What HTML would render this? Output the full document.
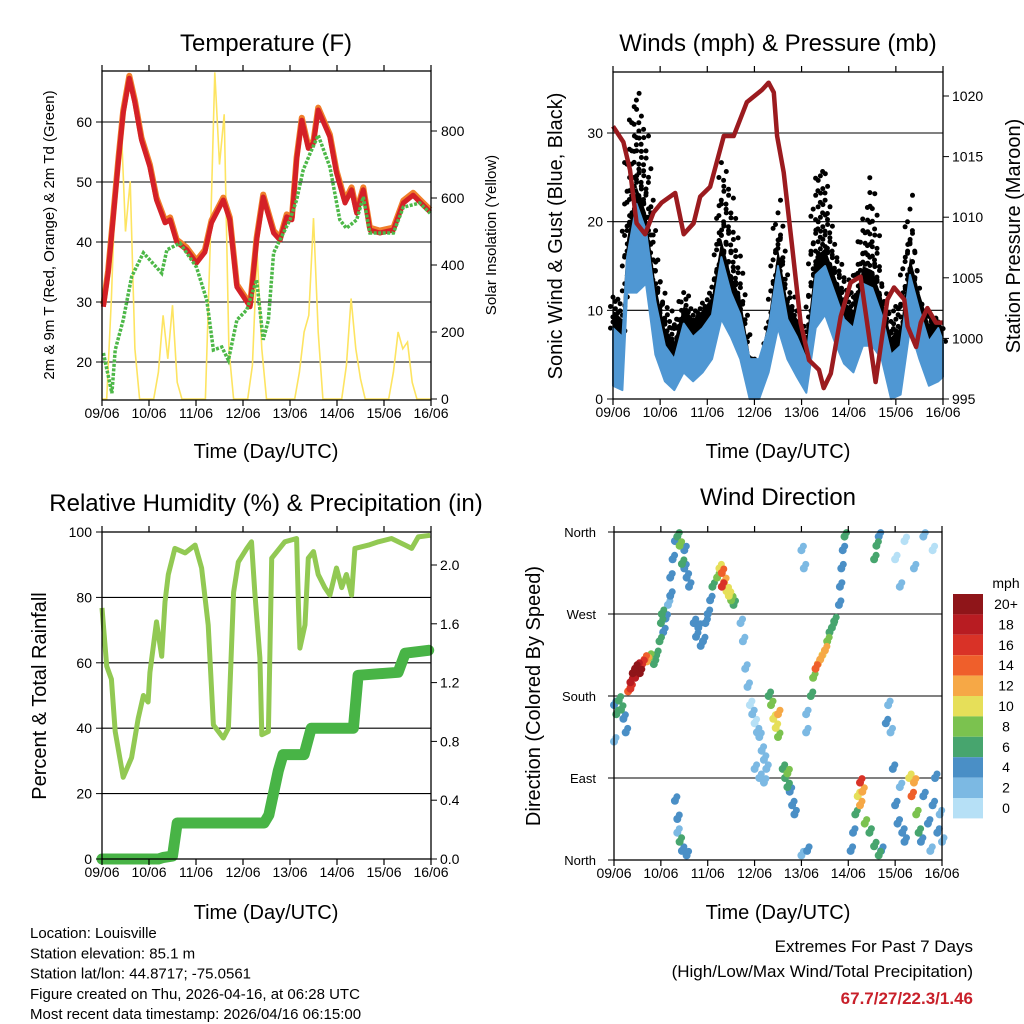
<!DOCTYPE html>
<html><head><meta charset="utf-8"><title>Weather station 7-day</title>
<style>
html,body{margin:0;padding:0;background:#fff;}
svg{display:block;font-family:"Liberation Sans",Arial,sans-serif;}
</style></head>
<body>
<svg id="chart" width="1024" height="1024" viewBox="0 0 1024 1024" xmlns="http://www.w3.org/2000/svg">
<rect x="0" y="0" width="1024" height="1024" fill="#fff"/>
<g id="layer"></g>
</svg>
<script>
// ---------- Data ----------
const dayLabels = ["09/06","10/06","11/06","12/06","13/06","14/06","15/06","16/06"];
// Temperature panel
const tDays = [0.03,0.13,0.24,0.35,0.45,0.58,0.7,0.84,1.02,1.16,1.34,1.45,1.59,1.8,2.01,2.19,2.33,2.58,2.72,2.87,3.15,3.29,3.43,3.65,3.79,3.93,4.04,4.14,4.25,4.39,4.5,4.6,4.85,4.99,5.17,5.31,5.42,5.56,5.7,5.91,6.2,6.41,6.62,6.76,6.98];
const tempVals = [29.2,34.8,44.2,53.7,61.5,67.3,63.2,57,52.5,47,43.2,43.7,40,38.7,36.5,38.3,43.2,47,43.7,32.5,29.2,40.3,47.5,41.5,40.3,44.2,43.7,53.7,60.3,55.6,56.5,62,57.5,51.5,46.5,48.7,44.8,48.7,42,41.5,42,46.5,47.8,46.7,45];
const tdDays = [0.03,0.21,0.28,0.45,0.63,0.88,1.02,1.27,1.38,1.66,2.01,2.23,2.37,2.55,2.69,2.87,3.08,3.29,3.43,3.54,3.65,3.86,4.0,4.14,4.28,4.43,4.6,4.85,5.06,5.2,5.42,5.56,5.7,6.2,6.41,6.76,6.98];
const dewVals = [21.5,14.8,22,27,34.2,38.2,37,34.8,38.7,39.8,35.8,30.3,22,22.5,20.3,27,28.7,33.7,23.7,27,38.2,41.5,43.7,47,52,54.8,57.8,52.5,43.7,42.3,43.7,47.5,41.5,41.5,45.8,46.5,44.8];
const solarVals = [0,0,300,700,850,500,650,150,0,0, 0,0,80,250,120,280,50,0,0,0, 0,0,0,450,975,700,850,150,0,0, 0,0,100,440,150,0,0,0,0,0, 0,0,80,200,250,540,200,0,0,0, 0,0,100,300,150,60,0,0,0,0, 0,0,80,200,150,170,50,0,0,0, 0];
// Winds panel
const windDays = [0,0.2,0.3,0.5,0.7,0.9,1.1,1.3,1.5,1.7,1.9,2.1,2.3,2.5,2.7,2.9,3.1,3.3,3.5,3.7,3.9,4.1,4.3,4.5,4.7,4.9,5.1,5.3,5.5,5.7,5.9,6.1,6.3,6.5,6.7,6.9,7.0];
const windHi = [8,7,16,22,19,11,6,4.5,8.5,7,8,9.5,16,12,9.5,4.5,4.5,8,15,9,7,4.5,14,15,12,9,8,13,12.5,9.5,5,6,14,10,6.5,8,6.5];
const windLo = [1.5,1,12,12,13,5,2,1,3,2,3,4.5,9,7,4.5,0,0,3,8,4.5,2.5,0.7,8,9.5,6.5,4,3,6,6,4.5,0,0.5,8,4.5,1.5,2,2.5];
const gustTop = [12,11,28,35,30,16,11,9,13,10,11,12,27,23,15,5,4,9,23,13,10,8,26,26,17,14,12,20,25,13,10,12,23,12,10,9,8];
const presDays = [0,0.22,0.36,0.5,0.68,0.86,1.03,1.32,1.5,1.71,1.85,2.06,2.35,2.56,2.84,3.16,3.3,3.41,3.48,3.62,3.8,3.98,4.16,4.37,4.47,4.62,4.83,5.04,5.25,5.4,5.57,5.82,5.96,6.18,6.25,6.43,6.53,6.67,6.85,7.0];
const presVals = [1017.5,1016.2,1013.9,1009.5,1008.6,1010.4,1011.2,1012,1008.6,1009.5,1011.7,1012.5,1016.7,1016.7,1019.5,1020.5,1021.1,1020.3,1016.7,1013.7,1007.6,1001.3,998.2,997.4,995.9,997.1,1001.8,1004.6,1005.1,1001,996.4,1003.2,1004.2,1003.2,1001,999.3,1001.3,1002.5,1001.3,1001.3];
// RH panel
const rhDays = [0,0.1,0.2,0.28,0.45,0.63,0.77,0.88,0.98,1.02,1.16,1.27,1.34,1.41,1.55,1.77,1.98,2.12,2.26,2.37,2.58,2.69,2.8,2.9,3.08,3.18,3.25,3.36,3.4,3.54,3.61,3.89,4.14,4.18,4.21,4.32,4.39,4.5,4.6,4.74,4.85,4.99,5.1,5.2,5.31,5.38,5.67,5.88,6.16,6.45,6.59,6.73,6.98];
const rhVals = [76.8,59,55,39,25,31,43,50,48,57,72.5,62,78.6,87,95,93.6,96,89,71.6,41,37,40,81.6,90.8,95,97,81.6,61.5,38,39,92,97,98,76.8,64.5,71.6,92,94,87,83,80.7,89,83,87,80.7,95,96,97,98,96,95,98.5,99];
const prDays = [0,1.2,1.3,1.5,1.6,3.45,3.55,3.75,3.85,4.3,4.45,5.35,5.45,6.3,6.45,6.95];
const prVals = [0,0,0.01,0.02,0.245,0.245,0.3,0.6,0.71,0.71,0.89,0.89,1.25,1.27,1.40,1.42];
// Wind direction panel
const wdDay = [0,0.05,0.1,0.15,0.2,0.25,0,0.3,0.35,0.4,0.45,0.5,0.55,0.6,0.65,0.7,0.75,0.45,0.35,0.85,0.9,0.97,1.0,1.02,1.05,1.1,1.15,1.2,1.2,1.25,1.3,1.35,1.4,1.45,1.5,1.55,1.6,1.5,1.7,1.75,1.8,1.85,1.9,1.95,2.0,2.05,2.1,2.2,2.25,2.3,2.35,2.4,2.45,2.5,2.55,2.3,2.7,2.75,2.8,2.85,2.9,2.95,3.0,3.05,3.1,3.15,3.2,3.25,3.3,3.35,3.4,3.45,3.5,3.5,3.6,3.65,3.7,3.75,3.8,3.85,3.7,3.0,3.1,3.2,1.3,1.35,1.4,1.45,1.55,1.35,4.0,4.05,4.1,4.1,4.12,4.0,4.8,4.82,4.85,4.88,4.92,4.2,4.25,4.3,4.35,4.4,4.45,4.5,4.55,4.6,4.65,4.7,5.05,5.1,5.15,5.2,5.25,5.3,5.25,5.35,5.45,5.55,5.65,5.7,5.55,5.6,5.65,5.8,5.85,5.9,5.95,6.0,6.05,6.1,6.15,6.2,6.3,6.35,6.4,6.45,6.5,6.55,6.6,6.7,6.75,6.8,6.85,6.9,6.95,7.0,6.0,6.1,6.2,6.4,6.6,6.8,6.2,6.6];
const wdDir = [170,160,175,165,155,140,130,185,195,205,210,212,205,215,220,218,222,200,188,215,225,240,260,270,250,265,280,290,310,330,350,355,345,325,320,310,300,340,260,245,255,235,240,260,270,285,300,310,320,315,305,295,290,285,280,300,260,240,210,190,170,160,150,140,135,120,110,100,180,170,155,145,135,160,100,90,80,75,60,50,95,100,90,85,65,45,20,10,5,30,340,320,160,140,10,5,280,300,320,340,355,180,200,210,215,220,225,230,240,250,255,262,10,30,50,70,85,75,60,40,30,15,5,10,330,345,355,150,170,140,100,60,40,80,30,20,90,70,85,50,30,20,70,40,10,60,90,30,50,20,330,300,350,320,355,340,270,250];
const wdSpd = [4,6,7,6,5,4,3,14,18,20,20,18,20,16,14,12,8,18,16,6,6,7,6,6,4,4,3,4,4,4,4,6,8,6,4,4,4,4,4,4,4,4,4,4,4,4,6,8,10,14,12,10,10,8,6,16,2,2,2,2,0,2,0,2,2,2,2,2,6,8,10,10,8,12,6,6,6,4,4,4,8,2,2,2,4,4,6,4,4,2,2,2,2,2,4,2,4,4,4,4,6,6,8,14,12,12,10,12,8,6,6,6,4,4,6,10,16,12,12,8,6,6,6,4,6,6,4,4,2,2,4,4,4,2,4,4,10,14,12,8,6,4,4,4,2,4,4,4,2,2,0,2,0,2,2,0];
const cbLabels = ["20+","18","16","14","12","10","8","6","4","2","0"];
const cbColors = ["#8f1519","#b81c22","#d93227","#ef5f2b","#f6a846","#e6df59","#7bc24f","#47a56e","#4a8fc6","#7cb9e3","#b6e0f6"];

// ---------- Helpers ----------
const NS = "http://www.w3.org/2000/svg";
const layer = document.getElementById("layer");
function mk(tag, attrs, parent) {
  const e = document.createElementNS(NS, tag);
  for (const k in attrs) e.setAttribute(k, attrs[k]);
  (parent || layer).appendChild(e);
  return e;
}
function txt(s, x, y, size, anchor, parent, extra) {
  const e = mk("text", Object.assign({x: x, y: y, "font-size": size, "text-anchor": anchor || "middle", fill: "#000"}, extra || {}), parent);
  e.textContent = s;
  return e;
}
function lin(d0, d1, r0, r1) { return v => r0 + (v - d0) / (d1 - d0) * (r1 - r0); }
function pathOf(xs, ys, fx, fy) {
  return xs.map((d, i) => (i ? "L" : "M") + fx(d).toFixed(1) + "," + fy(ys[i]).toFixed(1)).join(" ");
}
function interp(xs, ys, d) {
  if (d <= xs[0]) return ys[0];
  for (let i = 1; i < xs.length; i++) if (d <= xs[i]) {
    const t = (d - xs[i - 1]) / (xs[i] - xs[i - 1]);
    return ys[i - 1] + t * (ys[i] - ys[i - 1]);
  }
  return ys[ys.length - 1];
}
function spdColor(s) { const idx = Math.max(0, Math.min(10, 10 - Math.floor(s / 2))); return cbColors[idx]; }

function frame(g, x0, x1, y0, y1) {
  const f = mk("rect", {x: x0, y: y0, width: x1 - x0, height: y1 - y0, fill: "none", stroke: "#000", "stroke-width": 1.3}, g);
  
  
}
function xAxis(g, fx, y0, y1) {
  dayLabels.forEach((lab, i) => {
    const x = fx(i);
    mk("line", {x1: x, x2: x, y1: y1, y2: y1 + 6, stroke: "#000", "stroke-width": 1.2}, g);
    mk("line", {x1: x, x2: x, y1: y0, y2: y0 - 6, stroke: "#000", "stroke-width": 1.2}, g);
    const t = txt(lab, x, y1 + 18, 14, "middle", g);
    
    
  });
}
function grid(g, ys, x0, x1) {
  ys.forEach(y => mk("line", {x1: x0, x2: x1, y1: y, y2: y, stroke: "#000", "stroke-width": 1.1}, g));
}
function rotTitle(g, s, x, y, size, name) {
  const t = txt(s, x, y, size, "middle", g, {transform: "rotate(-90 " + x + " " + y + ")"});
  
  
}
function title(g, s, x, y, size, name) {
  const t = txt(s, x, y, size, "middle", g);
  
  
}

// ---------- Panel 1: Temperature ----------
(function () {
  const g = mk("g", {});
  
  
  const X0 = 102, X1 = 431, Y0 = 71, Y1 = 400;
  const fx = lin(0, 7, X0, X1), fy = lin(20, 60, 362, 122), fs = lin(0, 800, 399, 131);
  grid(g, [20, 30, 40, 50, 60].map(fy), X0, X1);
  const sp = mk("path", {d: pathOf(solarVals.map((v, i) => i / 10), solarVals, fx, fs), fill: "none", stroke: "#fde461", "stroke-width": 1.6}, g);
  
  
  const o = mk("path", {d: pathOf(tDays, tempVals.map(v => v + 0.4), fx, fy), fill: "none", stroke: "#f07f2b", "stroke-width": 6, "stroke-linejoin": "round"}, g);
  
  
  const r = mk("path", {d: pathOf(tDays, tempVals, fx, fy), fill: "none", stroke: "#d42027", "stroke-width": 5, "stroke-linejoin": "round"}, g);
  
  
  const gr = mk("path", {d: pathOf(tdDays, dewVals, fx, fy), fill: "none", stroke: "#4db848", "stroke-width": 3.5, "stroke-dasharray": "3 1.5"}, g);
  
  
  frame(g, X0, X1, Y0, Y1);
  xAxis(g, fx, Y0, Y1);
  [20, 30, 40, 50, 60].forEach(v => { mk("line", {x1: X0 - 6, x2: X0, y1: fy(v), y2: fy(v), stroke: "#000"}, g); txt(String(v), X0 - 10, fy(v) + 5, 14, "end", g); });
  [0, 200, 400, 600, 800].forEach(v => { mk("line", {x1: X1, x2: X1 + 6, y1: fs(v), y2: fs(v), stroke: "#000"}, g); txt(String(v), X1 + 10, fs(v) + 5, 14, "start", g); });
  title(g, "Temperature (F)", 266, 51, 24, "temperature-title");
  title(g, "Time (Day/UTC)", 266, 458, 20, "x-axis-title");
  rotTitle(g, "2m & 9m T (Red, Orange) & 2m Td (Green)", 54, 235, 15, "y-axis-title");
  rotTitle(g, "Solar Insolation (Yellow)", 496, 235, 15, "y2-axis-title");
})();

// ---------- Panel 2: Winds ----------
(function () {
  const g = mk("g", {});
  
  
  const X0 = 613, X1 = 943, Y0 = 72, Y1 = 399;
  const fx = lin(0, 7, X0, X1), fy = lin(0, 30, 399, 133), fp = lin(995, 1020, 399, 96);
  grid(g, [10, 20, 30].map(fy), X0, X1);
  const band = windDays.map((d, i) => fx(d).toFixed(1) + "," + fy(windLo[i]).toFixed(1)).join(" ") + " " +
    windDays.slice().reverse().map((d, j) => { const i = windDays.length - 1 - j; return fx(d).toFixed(1) + "," + fy(Math.min(gustTop[i], windHi[i] + 2)).toFixed(1); }).join(" ");
  mk("polygon", {points: band, fill: "#000"}, g);
  const gd = mk("g", {}, g);
  
  
  let n = 0;
  for (let d = 0; d <= 7; d += 0.05) {
    const hi = interp(windDays, windHi, d), top = interp(windDays, gustTop, d);
    const x = fx(d);
    let k = 0;
    let y = fy(hi);
    while (y >= fy(top)) {
      mk("circle", {cx: (x + ((k + n) % 3 - 1) * 2.5).toFixed(1), cy: y.toFixed(1), r: 2.5, fill: "#000"}, gd);
      k++;
      y -= 5 + k * 1.1;
    }
    n++;
  }
  const bb = windDays.map((d, i) => fx(d).toFixed(1) + "," + fy(windHi[i]).toFixed(1)).join(" ") + " " +
    windDays.slice().reverse().map((d, j) => { const i = windDays.length - 1 - j; return fx(d).toFixed(1) + "," + fy(windLo[i]).toFixed(1); }).join(" ");
  const bl = mk("polygon", {points: bb, fill: "#4f97d3", stroke: "#4f97d3", "stroke-width": 2, "stroke-linejoin": "round"}, g);
  
  
  const p = mk("path", {d: pathOf(presDays, presVals, fx, fp), fill: "none", stroke: "#9b1b1f", "stroke-width": 4.5, "stroke-linejoin": "round"}, g);
  
  
  frame(g, X0, X1, Y0, Y1);
  xAxis(g, fx, Y0, Y1);
  [0, 10, 20, 30].forEach(v => { mk("line", {x1: X0 - 6, x2: X0, y1: fy(v), y2: fy(v), stroke: "#000"}, g); txt(String(v), X0 - 10, fy(v) + 5, 14, "end", g); });
  [995, 1000, 1005, 1010, 1015, 1020].forEach(v => { mk("line", {x1: X1, x2: X1 + 6, y1: fp(v), y2: fp(v), stroke: "#000"}, g); txt(String(v), X1 + 9, fp(v) + 5, 14, "start", g); });
  title(g, "Winds (mph) & Pressure (mb)", 778, 51, 24, "winds-title");
  title(g, "Time (Day/UTC)", 778, 458, 20, "x-axis-title");
  rotTitle(g, "Sonic Wind & Gust (Blue, Black)", 562, 236, 20, "y-axis-title");
  rotTitle(g, "Station Pressure (Maroon)", 1020, 236, 20, "y2-axis-title");
})();

// ---------- Panel 3: RH & Precip ----------
(function () {
  const g = mk("g", {});
  
  
  const X0 = 102, X1 = 431, Y0 = 532, Y1 = 859;
  const fx = lin(0, 7, X0, X1), fy = lin(0, 100, 859, 532), fr = lin(0, 0.4, 859, 800.2);
  grid(g, [20, 40, 60, 80].map(fy), X0, X1);
  const rh = mk("path", {d: pathOf(rhDays, rhVals, fx, fy), fill: "none", stroke: "#92c953", "stroke-width": 5, "stroke-linejoin": "round"}, g);
  
  
  const pr = mk("path", {d: pathOf(prDays, prVals, fx, fr), fill: "none", stroke: "#48b446", "stroke-width": 11, "stroke-linejoin": "round", "stroke-linecap": "round"}, g);
  
  
  frame(g, X0, X1, Y0, Y1);
  xAxis(g, fx, Y0, Y1);
  [0, 20, 40, 60, 80, 100].forEach(v => { mk("line", {x1: X0 - 6, x2: X0, y1: fy(v), y2: fy(v), stroke: "#000"}, g); txt(String(v), X0 - 10, fy(v) + 5, 14, "end", g); });
  [0, 0.4, 0.8, 1.2, 1.6, 2.0].forEach(v => { mk("line", {x1: X1, x2: X1 + 6, y1: fr(v), y2: fr(v), stroke: "#000"}, g); txt(v.toFixed(1), X1 + 9, fr(v) + 5, 14, "start", g); });
  title(g, "Relative Humidity (%) & Precipitation (in)", 266, 511, 24, "humidity-title");
  title(g, "Time (Day/UTC)", 266, 919, 20, "x-axis-title");
  rotTitle(g, "Percent & Total Rainfall", 46, 696, 20, "y-axis-title");
})();

// ---------- Panel 4: Wind Direction ----------
(function () {
  const g = mk("g", {});
  
  
  const X0 = 614, X1 = 942, Y0 = 532, Y1 = 860;
  const fx = lin(0, 7, X0, X1), fy = lin(0, 360, 860, 532);
  grid(g, [90, 180, 270].map(fy), X0, X1);
  const pg = mk("g", {}, g);
  
  
  const order = wdSpd.map((s, i) => i).sort((a, b) => wdSpd[a] - wdSpd[b]);
  order.forEach(i => {
    mk("circle", {cx: fx(wdDay[i]).toFixed(1), cy: fy(wdDir[i]).toFixed(1), r: 4, fill: spdColor(wdSpd[i])}, pg);
    mk("circle", {cx: (fx(wdDay[i]) + 2).toFixed(1), cy: (fy(wdDir[i]) - 4).toFixed(1), r: 3.5, fill: spdColor(wdSpd[i])}, pg);
  });
  frame(g, X0, X1, Y0, Y1);
  xAxis(g, fx, Y0, Y1);
  ["North", "East", "South", "West", "North"].forEach((lab, i) => { mk("line", {x1: X0 - 6, x2: X0, y1: fy(i * 90), y2: fy(i * 90), stroke: "#000"}, g); txt(lab, X0 - 18, fy(i * 90) + 5, 13, "end", g); });
  title(g, "Wind Direction", 778, 505, 24, "wind-direction-title");
  title(g, "Time (Day/UTC)", 778, 919, 20, "x-axis-title");
  rotTitle(g, "Direction (Colored By Speed)", 540, 696, 20, "y-axis-title");
  const cb = mk("g", {}, g);
  
  
  txt("mph", 1006, 588, 14, "middle", cb);
  cbColors.forEach((c, i) => {
    mk("rect", {x: 953, y: 594 + i * 20.4, width: 30, height: 20.4, fill: c}, cb);
    txt(cbLabels[i], 1006, 594 + i * 20.4 + 15, 14, "middle", cb);
  });
})();

// ---------- Footer ----------
(function () {
  const g = mk("g", {});
  
  
  ["Location: Louisville", "Station elevation: 85.1 m", "Station lat/lon: 44.8717; -75.0561", "Figure created on Thu, 2026-04-16, at 06:28 UTC", "Most recent data timestamp: 2026/04/16 06:15:00"]
    .forEach((s, i) => txt(s, 30, 938 + i * 20.3, 15, "start", g));
  const e = mk("g", {});
  
  
  txt("Extremes For Past 7 Days", 973, 952, 17, "end", e);
  txt("(High/Low/Max Wind/Total Precipitation)", 973, 977, 17, "end", e);
  txt("67.7/27/22.3/1.46", 973, 1004, 17, "end", e, {fill: "#c8202a", "font-weight": "bold"});
})();
</script>
</body></html>
